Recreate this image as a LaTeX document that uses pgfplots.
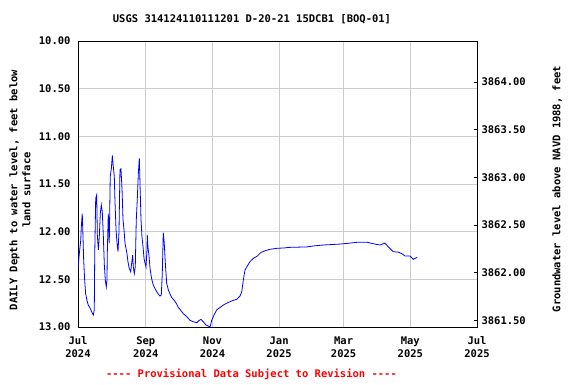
\documentclass[border=0pt]{standalone}
\usepackage{fontspec}
\setmonofont{DejaVu Sans Mono}
\usepackage{pgfplots}
\pgfplotsset{compat=1.18}
\definecolor{gridgray}{RGB}{204,204,204}
\newcommand{\mf}{\fontsize{10.5}{13}\selectfont\ttfamily\bfseries}
\pgfplotstableread{
day depth
0.0 12.385
1.2 12.23
2.5 12.09
3.0 11.955
3.9 11.81
4.3 11.955
5.2 12.30
6.1 12.51
7.0 12.65
8.2 12.72
9.4 12.77
11.0 12.80
12.5 12.84
14.0 12.875
14.9 12.82
15.3 12.245
16.2 11.65
17.1 11.615
17.7 12.035
18.6 12.19
19.5 12.05
20.4 11.81
21.3 11.72
22.2 11.79
23.1 12.02
24.1 12.35
25.0 12.51
25.9 12.58
26.5 12.51
26.8 12.23
27.7 11.81
28.6 12.12
29.5 11.42
30.5 11.34
31.4 11.20
32.3 11.32
33.2 11.42
33.8 11.67
34.8 11.98
35.7 12.12
36.6 12.21
37.5 12.00
38.4 11.35
39.3 11.34
40.3 11.56
41.2 11.88
42.1 11.98
43.0 12.12
43.9 12.175
44.8 12.23
45.7 12.315
46.9 12.385
48.2 12.42
49.1 12.33
50.0 12.245
50.6 12.37
51.5 12.44
52.4 12.37
53.3 11.88
54.2 11.67
55.2 11.39
56.1 11.23
56.7 11.49
57.6 11.86
58.5 12.05
59.5 12.16
60.4 12.28
61.3 12.33
62.2 12.37
63.1 12.19
63.4 12.035
64.0 12.16
65.0 12.26
65.9 12.385
66.8 12.455
67.7 12.51
68.9 12.56
70.4 12.595
72.0 12.63
73.5 12.655
75.0 12.675
76.2 12.665
77.1 12.44
78.0 12.01
78.9 12.12
79.9 12.33
81.1 12.54
82.6 12.61
84.2 12.655
85.7 12.69
87.2 12.71
88.7 12.73
90.3 12.76
91.8 12.795
93.3 12.815
96.3 12.86
99.4 12.89
102.5 12.93
105.5 12.945
108.6 12.955
110.4 12.935
112.5 12.92
114.6 12.945
117.1 12.98
119.2 12.99
120.8 13.00
122.3 12.93
124.4 12.875
126.9 12.82
129.9 12.795
132.9 12.77
136.0 12.75
139.0 12.735
142.1 12.72
145.2 12.71
148.2 12.675
149.8 12.63
151.2 12.51
152.8 12.40
154.9 12.36
157.3 12.315
160.4 12.28
164.0 12.256
167.1 12.22
171.1 12.20
175.6 12.185
181.8 12.175
189.3 12.17
192.4 12.165
209.2 12.16
215.3 12.15
224.4 12.14
239.7 12.13
248.8 12.12
256.4 12.11
264.1 12.11
271.7 12.13
276.3 12.14
280.8 12.12
283.9 12.16
288.4 12.21
293.0 12.215
296.1 12.23
299.1 12.255
303.7 12.255
306.7 12.29
308.3 12.28
310.4 12.27
}\wl
\begin{document}
\begin{tikzpicture}
\begin{axis}[
  scale only axis, width=399pt, height=286pt,
  at={(0,0)}, anchor=south west,
  xmin=0, xmax=365, ymin=10, ymax=13, y dir=reverse,
  xtick={0,62,123,184,243,304,365},
  xticklabels={Jul\\2024,Sep\\2024,Nov\\2024,Jan\\2025,Mar\\2025,May\\2025,Jul\\2025},
  ytick={10,10.5,11,11.5,12,12.5,13},
  yticklabels={10.00,10.50,11.00,11.50,12.00,12.50,13.00},
  tick label style={font=\mf},
  xticklabel style={align=center, yshift=-6pt},
  yticklabel style={xshift=-4pt},
  grid=major, major grid style={gridgray, line width=1pt},
  axis line style={black, line width=1pt},
  major tick length=0pt,
  clip=true,
]
\addplot[color={rgb,255:red,0;green,0;blue,255}, line width=0.8pt] table[x=day,y=depth] {\wl};
\end{axis}
\begin{axis}[
  scale only axis, width=399pt, height=286pt,
  at={(0,0)}, anchor=south west,
  xmin=0, xmax=365, ymin=3861.43, ymax=3864.43,
  axis x line=none, axis y line*=right,
  ytick={3861.5,3862,3862.5,3863,3863.5,3864},
  yticklabels={3861.50,3862.00,3862.50,3863.00,3863.50,3864.00},
  tick label style={font=\mf},
  yticklabel style={xshift=1pt},
  axis line style={black, line width=1pt},
  major tick length=3pt, tick style={black, line width=0.6pt},
]
\end{axis}
\node[rotate=90, align=center, font=\mf] at (-58pt,137pt) {DAILY Depth to water level, feet below\\land surface};
\node[rotate=90, font=\mf] at (479pt,138pt) {Groundwater level above NAVD 1988, feet};
\node[font=\mf] at (174pt,308pt) {USGS 314124110111201 D-20-21 15DCB1 [BOQ-01]};
\node[font=\mf, text={rgb,255:red,255;green,0;blue,0}] at (173.5pt,-47pt) {---- Provisional Data Subject to Revision ----};
\pgfresetboundingbox
\path (-78pt,-57pt) rectangle (498pt,327pt);
\end{tikzpicture}
\end{document}
